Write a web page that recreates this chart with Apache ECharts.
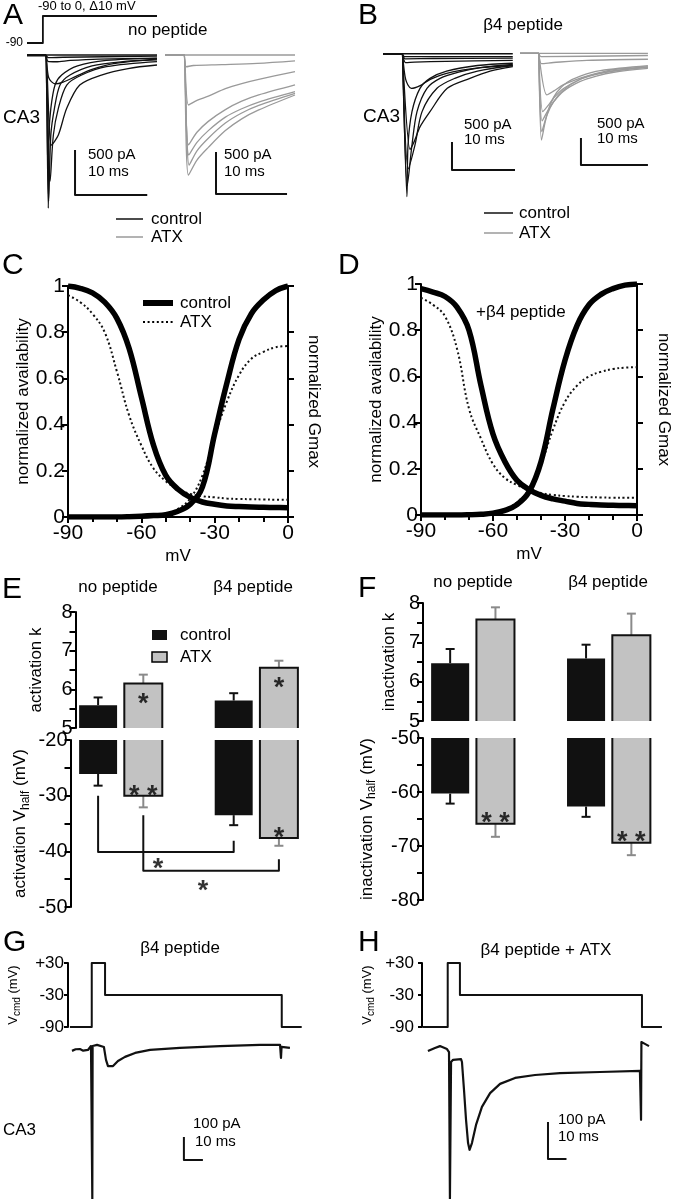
<!DOCTYPE html>
<html><head><meta charset="utf-8">
<script src="https://cdn.jsdelivr.net/npm/echarts@6/dist/echarts.min.js"></script>
<style>html,body{margin:0;padding:0;background:#fff}#c{width:673px;height:1199px}</style>
</head><body><div id="c"></div><script>
// ================= DATA =================
// Panel A/B: voltage-clamp current traces, [time (ms), current (pA)]
const protocolA = [[0,-90],[2.2,-90],[2.2,0],[18,0]];
const traceA_control = [
  [[0,0],[18,0]],
  [[0,-8],[2.5,-8],[2.6,-8],[3.0,-30],[5,-25],[18,-12]],
  [[0,0],[2.5,0],[2.6,0],[2.9,-70],[4,-75],[6,-60],[10,-45],[18,-35]],
  [[0,0],[2.5,0],[2.6,0],[3.0,-250],[3.9,-320],[5,-300],[6.7,-240],[9,-160],[12,-95],[18,-45]],
  [[0,0],[2.5,0],[2.6,0],[2.95,-1700],[3.04,-888],[3.3,-592],[3.88,-333],[4.8,-222],[7,-120],[11,-60],[18,-37]],
  [[0,0],[2.5,0],[2.6,0],[3.0,-1620],[3.3,-888],[3.8,-592],[4.57,-333],[5.95,-222],[9,-120],[13,-75],[18,-55]],
  [[0,0],[2.5,0],[2.6,0],[3.2,-1400],[3.65,-888],[4.34,-592],[5.5,-333],[7.57,-222],[11,-130],[18,-74]],
  [[0,0],[2.5,0],[2.6,0],[3.4,-1000],[4.34,-888],[5.5,-592],[7.3,-333],[10.3,-222],[14,-150],[18,-111]]
];
const traceA_atx = [
  [[0,0],[18.3,0]],
  [[0,0],[2.6,0],[2.7,0],[3.0,-140],[4,-125],[8,-115],[13,-100],[18.3,-70]],
  [[0,0],[2.6,0],[2.7,0],[3.3,-595],[4.5,-540],[6.1,-490],[8.5,-400],[10.8,-340],[13.2,-290],[18.3,-198]],
  [[0,0],[2.6,0],[2.7,0],[3.3,-1070],[4.5,-920],[6.1,-790],[8.5,-650],[10.8,-550],[13.2,-476],[18.3,-357]],
  [[0,0],[2.6,0],[2.7,0],[3.35,-1190],[4.5,-1040],[6.1,-900],[8.5,-740],[10.8,-640],[13.2,-560],[18.3,-436]],
  [[0,0],[2.6,0],[2.7,0],[3.4,-1310],[4.5,-1140],[6.1,-990],[8.5,-810],[10.8,-690],[13.2,-600],[18.3,-456]],
  [[0,0],[2.6,0],[2.7,0],[3.3,-1430],[4.5,-1250],[6.1,-1100],[8.5,-900],[10.8,-760],[13.2,-654],[18.3,-476]]
];
const traceB_control = [
  [[0,10],[20.6,10]],
  [[0,0],[3.1,0],[3.2,0],[3.4,-40],[20.6,-40]],
  [[0,0],[3.1,0],[3.2,0],[3.5,-80],[8,-75],[20.6,-70]],
  [[0,0],[3.1,0],[3.2,0],[3.6,-150],[5,-140],[10,-125],[20.6,-110]],
  [[0,0],[3.1,0],[3.2,0],[3.6,-450],[4.5,-610],[5.9,-560],[7.5,-450],[10.1,-340],[15.4,-240],[20.6,-200]],
  [[0,0],[3.1,0],[3.2,0],[3.8,-2548],[3.97,-1623],[4.6,-1026],[5.87,-609],[7.46,-430],[10.1,-300],[15,-200],[20.6,-160]],
  [[0,0],[3.1,0],[3.2,0],[3.85,-2350],[4.6,-1623],[5.4,-1026],[6.98,-609],[9.05,-430],[12,-320],[16,-230],[20.6,-180]],
  [[0,0],[3.1,0],[3.2,0],[4.0,-2050],[5.08,-1623],[6.2,-1026],[8.57,-609],[11.4,-430],[15,-300],[20.6,-200]],
  [[0,0],[3.1,0],[3.2,0],[4.3,-1700],[5.0,-1550],[5.87,-1300],[7.46,-1026],[10.2,-609],[13.8,-430],[17,-300],[20.6,-220]]
];
const traceB_atx = [
  [[0,0],[19.1,0]],
  [[0,0],[2.8,0],[2.9,0],[3.1,-60],[19.1,-40]],
  [[0,0],[2.8,0],[2.9,0],[3.2,-190],[5,-170],[10,-130],[19.1,-110]],
  [[0,0],[2.8,0],[2.9,0],[4.0,-770],[5,-700],[6.5,-580],[9,-460],[11.4,-370],[14,-300],[19.1,-250]],
  [[0,0],[2.8,0],[2.9,0],[3.4,-1080],[4.3,-950],[5,-830],[6.5,-650],[9,-480],[11.4,-390],[14,-330],[19.1,-250]],
  [[0,0],[2.8,0],[2.9,0],[3.3,-1250],[4.2,-1050],[5,-900],[6.5,-700],[9,-520],[11.4,-420],[14,-350],[19.1,-280]],
  [[0,0],[2.8,0],[2.9,0],[3.25,-1450],[4,-1150],[5,-900],[6.5,-680],[9,-480],[11.4,-380],[14,-320],[19.1,-260]],
  [[0,0],[2.8,0],[2.9,0],[3.2,-1604],[3.8,-1250],[4.5,-950],[5.5,-720],[7,-540],[9,-420],[12,-320],[19.1,-230]]
];
// scale bars: [ms, pA] (500 pA / 10 ms)
const scaleA_control = [[6.65,-1055],[6.65,-1555],[16.65,-1555]];
const scaleA_atx = [[7.18,-1154],[7.18,-1654],[17.18,-1654]];
const scaleB_control = [[10.95,-1570],[10.95,-2070],[20.95,-2070]];
const scaleB_atx = [[9.1,-1567],[9.1,-2067],[19.1,-2067]];

// Panels C/D: Boltzmann curves vs membrane potential (mV)
const mV = [-90,-85,-80,-75,-70,-65,-60,-55,-50,-45,-40,-35,-30,-25,-20,-15,-10,-5,0];
const C_inactControl = [1.0,0.99,0.97,0.93,0.86,0.73,0.52,0.31,0.18,0.12,0.085,0.065,0.055,0.048,0.045,0.043,0.042,0.041,0.04];
const C_inactATX     = [0.96,0.93,0.88,0.80,0.63,0.44,0.31,0.21,0.155,0.12,0.10,0.09,0.085,0.08,0.078,0.077,0.076,0.075,0.075];
const C_actControl   = [0,0,0,0,0,0.001,0.003,0.006,0.01,0.025,0.055,0.13,0.36,0.58,0.77,0.88,0.94,0.98,1.0];
const C_actATX       = [0,0,0,0,0,0.001,0.003,0.008,0.015,0.035,0.08,0.18,0.35,0.5,0.615,0.685,0.715,0.735,0.74];
const D_inactControl = [0.98,0.965,0.946,0.90,0.80,0.56,0.35,0.23,0.15,0.11,0.085,0.07,0.06,0.05,0.046,0.043,0.042,0.041,0.04];
const D_inactATX     = [0.94,0.91,0.86,0.72,0.46,0.33,0.22,0.16,0.13,0.11,0.095,0.087,0.082,0.079,0.077,0.076,0.075,0.075,0.075];
const D_actControl   = [0,0,0,0,0.001,0.003,0.008,0.02,0.045,0.1,0.23,0.46,0.67,0.82,0.91,0.955,0.98,0.995,1.0];
const D_actATX       = [0,0,0,0,0.001,0.004,0.01,0.025,0.055,0.11,0.22,0.37,0.49,0.56,0.6,0.62,0.632,0.638,0.64];

// Panels E/F: groups [no peptide, β4 peptide]
const groups = ['no peptide', 'β4 peptide'];
const E_kControl = [5.59, 5.71],  E_kControlErr = [0.20, 0.19];
const E_kATX     = [6.15, 6.56],  E_kATXErr     = [0.23, 0.18];
const E_vControl = [-26.1, -33.5], E_vControlErr = [2.1, 1.8];
const E_vATX     = [-30.0, -37.6], E_vATXErr     = [2.1, 1.4];
const F_kControl = [6.47, 6.59],  F_kControlErr = [0.36, 0.35];
const F_kATX     = [7.58, 7.18],  F_kATXErr     = [0.31, 0.55];
const F_vControl = [-60.3, -62.7], F_vControlErr = [1.85, 1.9];
const F_vATX     = [-65.9, -69.4], F_vATXErr     = [2.4, 2.3];
// significance marks [x slot, value, text]
const E_kStars = [[1, 5.8, '*'], [4, 6.2, '*']];
const E_vStars = [[1, -28.85, '* *'], [4, -36.45, '*'], [1.325, -42.1, '*'], [2.32, -46.0, '*']];
const F_vStars = [[1, -64.6, '* *'], [4, -68.0, '* *']];
const E_bracket1 = [[0,-30],[0,-40.1],[3,-40.1],[3,-38.1]];
const E_bracket2 = [[1,-33.5],[1,-43.5],[4,-43.5],[4,-41.4]];

// Panels G/H: command voltage [ms, mV] and current [ms, pA]
const G_voltage = [[1,-90],[12.5,-90],[12.5,30],[19.5,30],[19.5,-30],[112.5,-30],[112.5,-90],[123,-90]];
const G_current = [[2.1,-4],[4,3],[6.3,4],[8,-3],[10.5,0],[12.1,17],[12.6,17],[12.8,-648],[12.95,17],[15.3,22],[18.9,13],[20,-43],[21.05,-70],[22.1,-78],[23.7,-70],[26.3,-48],[30,-30],[35.3,-13],[43.2,0],[58.9,9],[80,17],[101,22],[111.6,22],[112.1,-35],[112.4,13],[116.8,9]];
const H_voltage = [[0.5,-90],[13.9,-90],[13.9,30],[20.5,30],[20.5,-30],[118.9,-30],[118.9,-90],[129.7,-90]];
const H_current = [[3.2,-8],[7.0,0],[9.7,5],[13.5,-3],[14.6,-11],[15.1,-408],[15.7,-38],[16.8,-32],[21.1,-30],[21.6,-38],[22.7,-113],[23.8,-194],[24.9,-257],[25.7,-275],[27,-257],[29.2,-208],[32.4,-159],[36.8,-122],[42.2,-97],[50.3,-81],[61.1,-73],[74.6,-68],[96.2,-65],[117.8,-62],[118.4,-194],[118.6,16],[120.5,11],[122.7,5]];
const scaleG = [[61,-378],[61,-478],[71,-478]];   // 100 pA / 10 ms
const scaleH = [[68.1,-200],[68.1,-300],[78.1,-300]];

// ================= CHART =================
const FONT = '"Liberation Sans", Arial, Helvetica, sans-serif';
const BLACK = '#111', GRAY = '#9a9a9a', BARGRAY = '#c2c2c2', ERRGRAY = '#8a8a8a';

const grids = [
  {left:27, top:16, width:130, height:27},
  {left:27, top:37, width:130, height:180},
  {left:165, top:37, width:130, height:180},
  {left:383, top:37, width:132.3, height:168},
  {left:520, top:37, width:128.6, height:168},
  {left:68, top:286, width:220, height:231},
  {left:421, top:284, width:220, height:231},
  {left:75.5, top:612, width:226, height:116},
  {left:75.5, top:740, width:226, height:167},
  {left:427.5, top:603, width:226.5, height:118},
  {left:427.5, top:738, width:226.5, height:162},
  {left:68, top:963, width:239.4, height:64},
  {left:68, top:1035, width:239.4, height:164},
  {left:422, top:963, width:240.5, height:64},
  {left:422, top:1035, width:240.5, height:164}
];

const hx = (g,min,max)=>({gridIndex:g,type:'value',min,max,show:false});
const hy = hx;
const axLine = {show:true, onZero:false, lineStyle:{color:'#000', width:2}};
const tick = (len)=>({show:true, length:len, lineStyle:{color:'#000', width:2}});
const lab = (size, margin, fmt)=>({show:true, fontSize:size, color:'#000', fontFamily:FONT, margin, formatter:fmt});
const nameStyle = {fontSize:17, color:'#000', fontFamily:FONT};
const subName = (size, sub)=>({color:'#000', fontFamily:FONT, rich:{
  n:{fontSize:size, lineHeight:size+5, fontFamily:FONT, color:'#000'},
  s:{fontSize:sub, lineHeight:sub, verticalAlign:'bottom', fontFamily:FONT, color:'#000'}}});

function curveX(g){ return {gridIndex:g, type:'value', min:-90, max:0, interval:30,
  axisLine:axLine, axisTick:tick(6), minorTick:{show:true, splitNumber:3, length:5, lineStyle:{color:'#000', width:2}},
  axisLabel:lab(21,6), splitLine:{show:false},
  name:'mV', nameLocation:'middle', nameGap:31, nameTextStyle:nameStyle}; }
function curveYL(g){ return {gridIndex:g, type:'value', min:0, max:1, interval:0.2, position:'left',
  axisLine:axLine, axisTick:tick(6), axisLabel:lab(21,3), splitLine:{show:false},
  name:'normalized availability', nameLocation:'middle', nameRotate:90, nameGap:35, nameTextStyle:nameStyle}; }
function curveYR(g, gap){ return {gridIndex:g, type:'value', min:0, max:1, interval:0.2, position:'right',
  axisLine:axLine, axisTick:tick(6), axisLabel:{show:false}, splitLine:{show:false},
  name:'normalized Gmax', nameLocation:'middle', nameRotate:-90, nameGap:gap, nameTextStyle:nameStyle}; }
function barY(g, min, max, offset, name, gap){ return {gridIndex:g, type:'value', min, max, interval:(max-min>5?10:1), offset,
  axisLine:axLine, axisTick:tick(6), minorTick:{show:true, splitNumber:2, length:6, lineStyle:{color:'#000', width:2}},
  axisLabel:lab(20,3), splitLine:{show:false},
  name, nameLocation:'middle', nameRotate:90, nameGap:gap, nameTextStyle: name.indexOf('{')>=0 ? subName(17,12) : nameStyle}; }
function voltY(g, margin){ return {gridIndex:g, type:'value', min:-90, max:30, interval:60,
  axisLine:axLine, axisTick:tick(4), axisLabel:lab(17, margin, v=> v>0 ? '+'+v : String(v)), splitLine:{show:false},
  name:'{n|V}{s|cmd}{n| (mV)}', nameLocation:'middle', nameRotate:90, nameGap:46, nameTextStyle:subName(13,10)}; }

const xAxis = [hx(0,0,18), hx(1,0,18), hx(2,0,18.3), hx(3,0,21), hx(4,0,19.2),
  curveX(5), curveX(6),
  hx(7,-0.5,4.5), hx(8,-0.5,4.5), hx(9,-0.5,4.5), hx(10,-0.5,4.5),
  hx(11,0,126), hx(12,0,126), hx(13,0,130), hx(14,0,130)];
const yAxis = [hy(0,-90,0), hy(1,-1798,200), hy(2,-1928,214), hy(3,-2698,310), hy(4,-2806,302),
  curveYL(5), curveYL(6),
  barY(7,5,8,0,'activation k',31),
  barY(8,-50,-20,5,'{n|activation V}{s|half}{n| (mV)}',39),
  barY(9,5,8,4.5,'inactivation k',25),
  barY(10,-80,-50,4.5,'{n|inactivation V}{s|half}{n| (mV)}',45),
  voltY(11,4), hy(12,-648,65), voltY(13,8), hy(14,-408,35),
  curveYR(5,17), curveYR(6,18)];

const series = [];
function line(g, data, color, width, extra, yIdx){
  series.push(Object.assign({type:'line', xAxisIndex:g, yAxisIndex: yIdx===undefined?g:yIdx, data,
    symbol:'none', showSymbol:false, silent:true, animation:false,
    lineStyle:{color, width, join:'round'}}, extra||{}));
}
const soft = {smooth:0.3};
// A/B
line(0, protocolA, BLACK, 1.8);
traceA_control.forEach(t=>line(1, t, BLACK, 1.3, soft));
traceA_atx.forEach(t=>line(2, t, GRAY, 1.3, soft));
traceB_control.forEach(t=>line(3, t, BLACK, 1.3, soft));
traceB_atx.forEach(t=>line(4, t, GRAY, 1.3, soft));
line(1, scaleA_control, BLACK, 2); line(2, scaleA_atx, BLACK, 2);
line(3, scaleB_control, BLACK, 2); line(4, scaleB_atx, BLACK, 2);
// C/D
const pairs = arr => mV.map((v,i)=>[v, arr[i]]);
const curveSmooth = {smooth:0.4};
[[5,C_inactATX,C_actATX,C_inactControl,C_actControl],[6,D_inactATX,D_actATX,D_inactControl,D_actControl]].forEach(([g,ia,aa,ic,ac])=>{
  line(g, pairs(ia), BLACK, 2, Object.assign({lineStyle:{color:BLACK,width:2,type:[2,2.6]}}, curveSmooth));
  line(g, pairs(aa), BLACK, 2, Object.assign({lineStyle:{color:BLACK,width:2,type:[2,2.6]}}, curveSmooth));
  line(g, pairs(ic), '#000', 5.5, curveSmooth);
  line(g, pairs(ac), '#000', 5.5, curveSmooth);
});
// E/F bars
function bars(g, slots, vals, errs, base, fill, stroke, errColor){
  series.push({type:'custom', xAxisIndex:g, yAxisIndex:g, silent:true, animation:false, clip:false,
    data: slots.map((x,i)=>[x, vals[i], errs[i]]),
    renderItem:(params, api)=>{
      const x=api.value(0), v=api.value(1), e=api.value(2);
      const dir = v>base?1:-1;
      const p=api.coord([x,v]), b=api.coord([x,base]), q=api.coord([x,v+dir*e]);
      const w=api.size([0.84,0])[0], l=p[0]-w/2, r=p[0]+w/2, cap=9;
      const ch=[
        {type:'line', shape:{x1:p[0],y1:p[1],x2:q[0],y2:q[1]}, style:{stroke:errColor,lineWidth:2}},
        {type:'line', shape:{x1:q[0]-cap/2,y1:q[1],x2:q[0]+cap/2,y2:q[1]}, style:{stroke:errColor,lineWidth:2}},
        {type:'rect', shape:{x:l,y:Math.min(p[1],b[1]),width:w,height:Math.abs(b[1]-p[1])}, style:{fill}}
      ];
      if(stroke) ch.push({type:'polyline', shape:{points:[[l,b[1]],[l,p[1]],[r,p[1]],[r,b[1]]]}, style:{stroke, lineWidth:2, fill:null}});
      return {type:'group', children:ch};
    }});
}
const ctrlSlots = groups.map((g,i)=>i*3), atxSlots = groups.map((g,i)=>i*3+1);
bars(7, ctrlSlots, E_kControl, E_kControlErr, 5, BLACK, null, BLACK);
bars(7, atxSlots, E_kATX, E_kATXErr, 5, BARGRAY, BLACK, ERRGRAY);
bars(8, ctrlSlots, E_vControl, E_vControlErr, -20, BLACK, null, BLACK);
bars(8, atxSlots, E_vATX, E_vATXErr, -20, BARGRAY, BLACK, ERRGRAY);
bars(9, ctrlSlots, F_kControl, F_kControlErr, 5, BLACK, null, BLACK);
bars(9, atxSlots, F_kATX, F_kATXErr, 5, BARGRAY, BLACK, ERRGRAY);
bars(10, ctrlSlots, F_vControl, F_vControlErr, -50, BLACK, null, BLACK);
bars(10, atxSlots, F_vATX, F_vATXErr, -50, BARGRAY, BLACK, ERRGRAY);
line(8, E_bracket1, BLACK, 2); line(8, E_bracket2, BLACK, 2);
function stars(g, list){
  series.push({type:'scatter', xAxisIndex:g, yAxisIndex:g, silent:true, animation:false, symbolSize:1,
    itemStyle:{color:'rgba(0,0,0,0)'},
    data:list.map(s=>({value:[s[0],s[1]], name:s[2]})),
    label:{show:true, position:'inside', formatter:'{b}', fontSize:27, fontWeight:'bold', color:'#000', fontFamily:FONT, offset:[0,7]}});
}
stars(7, E_kStars); stars(8, E_vStars); stars(10, F_vStars);
// G/H
line(11, G_voltage, BLACK, 2); line(12, G_current, BLACK, 2.2); line(12, scaleG, BLACK, 2);
line(13, H_voltage, BLACK, 2); line(14, H_current, BLACK, 2.2); line(14, scaleH, BLACK, 2);

// annotations
const T = (text,x,y,size,align,extra)=>({type:'text', x, y, silent:true, style:Object.assign({text, fontSize:size, fontFamily:FONT, fill:'#000', align:align||'left', verticalAlign:'middle'}, extra||{})});
const L = (x1,y1,x2,y2,stroke,w,dash)=>({type:'line', silent:true, shape:{x1,y1,x2,y2}, style:{stroke, lineWidth:w, lineDash:dash||null}});
const R = (x,y,w,h,fill,stroke)=>({type:'rect', silent:true, shape:{x,y,width:w,height:h}, style:{fill, stroke:stroke||null, lineWidth:stroke?1.5:0}});
const graphic = [
  T('A',3,16,30), T('-90 to 0, Δ10 mV',38,6,13), T('-90',23,43,12,'right'), T('no peptide',128,30,17),
  T('CA3',3,118,19), T('500 pA',88,155,15), T('10 ms',88,172,15), T('500 pA',224,155,15), T('10 ms',224,172,15),
  L(116,219,143,219,BLACK,1.5), T('control',151,219,17), L(116,237,143,237,GRAY,1.5), T('ATX',151,237,17),
  T('B',358,16,30), T('β4 peptide',523,25,17,'center'), T('CA3',363,117,19),
  T('500 pA',464,125,15), T('10 ms',464,140,15), T('500 pA',597,124,15), T('10 ms',597,139,15),
  L(484,213,513,213,BLACK,1.5), T('control',519,213,17), L(484,233,513,233,GRAY,1.5), T('ATX',519,233,17),
  T('C',2,266,30), L(143,303,173,303,'#000',6), T('control',180,303,17), L(143,322,173,322,'#000',2,[2,2.6]), T('ATX',180,322,17),
  T('D',338,266,30), T('+β4 peptide',476,312,17),
  T('E',2,590,30), T('no peptide',118,587,17,'center'), T('β4 peptide',253,587,17,'center'),
  R(152,630,15,10,BLACK), T('control',180,635,17), R(152,652,15,10,BARGRAY,'#000'), T('ATX',180,657,17),
  T('F',358,589,30), T('no peptide',473,582,17,'center'), T('β4 peptide',608,582,17,'center'),
  T('G',3,943,30), T('β4 peptide',180,948,17,'center'), T('CA3',3,1130,17), T('100 pA',193,1124,15), T('10 ms',195,1142,15),
  T('H',358,943,30), T('β4 peptide + ATX',546,950,17,'center'), T('100 pA',558,1120,15), T('10 ms',558,1137,15)
];

const chart = echarts.init(document.getElementById('c'), null, {renderer:'canvas'});
chart.setOption({animation:false, backgroundColor:'#fff', textStyle:{fontFamily:FONT},
  grid:grids, xAxis, yAxis, series, graphic});
</script></body></html>
